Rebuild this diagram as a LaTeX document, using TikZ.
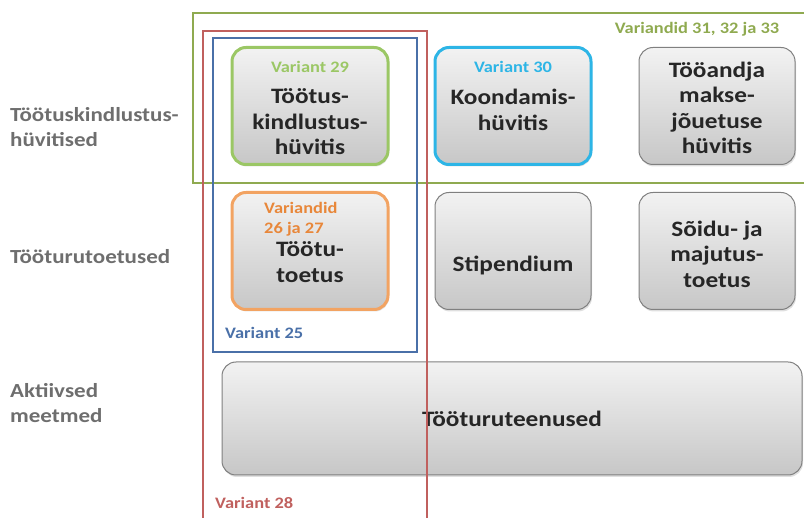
\documentclass[tikz,border=0pt]{standalone}
\usepackage{fontspec}
\setmainfont{Carlito}[FakeStretch=1.15]
\usepackage{tikz}
\usetikzlibrary{positioning, shadows}

\definecolor{frameGreen}{HTML}{8FAA50}
\definecolor{frameRed}{HTML}{C0605E}
\definecolor{frameBlue}{HTML}{4A70A8}
\definecolor{lightGreen}{HTML}{9BC765}
\definecolor{skyBlue}{HTML}{2DB5E6}
\definecolor{softOrange}{HTML}{F2A362}
\definecolor{darkOrange}{HTML}{E8873A}
\definecolor{labelGrey}{HTML}{6E6E6E}

\begin{document}
\begin{tikzpicture}[
  x=1pt, y=-1pt,
  node distance=28pt and 47pt,
  box/.style={rectangle, rounded corners=14pt, draw=black!50, line width=1pt,
              top color=black!5, bottom color=black!22,
              drop shadow={opacity=0.25, shadow xshift=1pt, shadow yshift=-2pt},
              minimum width=156pt, minimum height=117pt, inner sep=0pt, outer sep=0pt},
  greyBox/.style={box},
  greenBox/.style={box, draw=lightGreen, line width=3pt},
  cyanBox/.style={box, draw=skyBlue, line width=3pt},
  orangeBox/.style={box, draw=softOrange, line width=3pt},
  boxText/.style={font=\fontsize{22}{25.5}\selectfont\bfseries, text=black!85,
                  align=center, inner sep=0pt},
  varText/.style={font=\fontsize{16}{20}\selectfont\bfseries, inner sep=0pt},
  rowText/.style={font=\fontsize{20}{25}\selectfont\bfseries, text=labelGrey,
                  align=left, anchor=west, inner sep=0pt},
  frame/.style={line width=1.6pt}
]
\useasboundingbox (0,0) rectangle (804,518);

% boxes
\node[greenBox] (b1) at (310,106) {};
\node[cyanBox, right=of b1] (b2) {};
\node[greyBox, right=48pt of b2] (b3) {};
\node[orangeBox, below=of b1] (b4) {};
\node[greyBox, below=of b2] (b5) {};
\node[greyBox, below=of b3] (b6) {};
\node[greyBox, minimum width=580pt, minimum height=113pt] (b7) at (512,418.5) {};

% box texts
\node[varText, text=lightGreen] (v29) at ([yshift=-19pt]b1.north) {Variant 29};
\node[varText, text=skyBlue] (v30) at ([yshift=-19pt]b2.north) {Variant 30};
\node[boxText] (t1) at ([yshift=-16pt]b1.center) {Töötus-\\kindlustus-\\hüvitis};
\node[boxText] (t2) at ([yshift=-4pt]b2.center) {Koondamis-\\hüvitis};
\node[boxText] (t3) at ([yshift=-2pt]b3.center) {Tööandja\\makse-\\jõuetuse\\hüvitis};
\node[varText, text=darkOrange, align=left, anchor=west] (v26) at (264,219) {Variandid\\26 ja 27};
\node[boxText] (t4) at ([yshift=-11pt]b4.center) {Töötu-\\toetus};
\node[boxText] (t5) at ([yshift=-14pt]b5.center) {Stipendium};
\node[boxText] (t6) at ([yshift=-3pt]b6.center) {Sõidu- ja\\majutus-\\toetus};
\node[boxText] (t7) at (b7) {Tööturuteenused};

% row labels
\node[rowText] (r1) at (10,127) {Töötuskindlustus-\\hüvitised};
\node[rowText] (r2) at (10,257) {Tööturutoetused};
\node[rowText] (r3) at (10,403) {Aktiivsed\\meetmed};

% variant frames
\draw[frame, draw=frameGreen, line width=2pt] (193,13) rectangle (812,183);
\draw[frame, draw=frameRed] (203,31) rectangle (427,530);
\draw[frame, draw=frameBlue] (213,38) rectangle (417,352);
\node[varText, text=frameGreen] (v31) at (697,29) {Variandid 31, 32 ja 33};
\node[varText, text=frameBlue, anchor=west] (v25) at (225,333) {Variant 25};
\node[varText, text=frameRed, anchor=west] (v28) at (215,503) {Variant 28};
\end{tikzpicture}
\end{document}
